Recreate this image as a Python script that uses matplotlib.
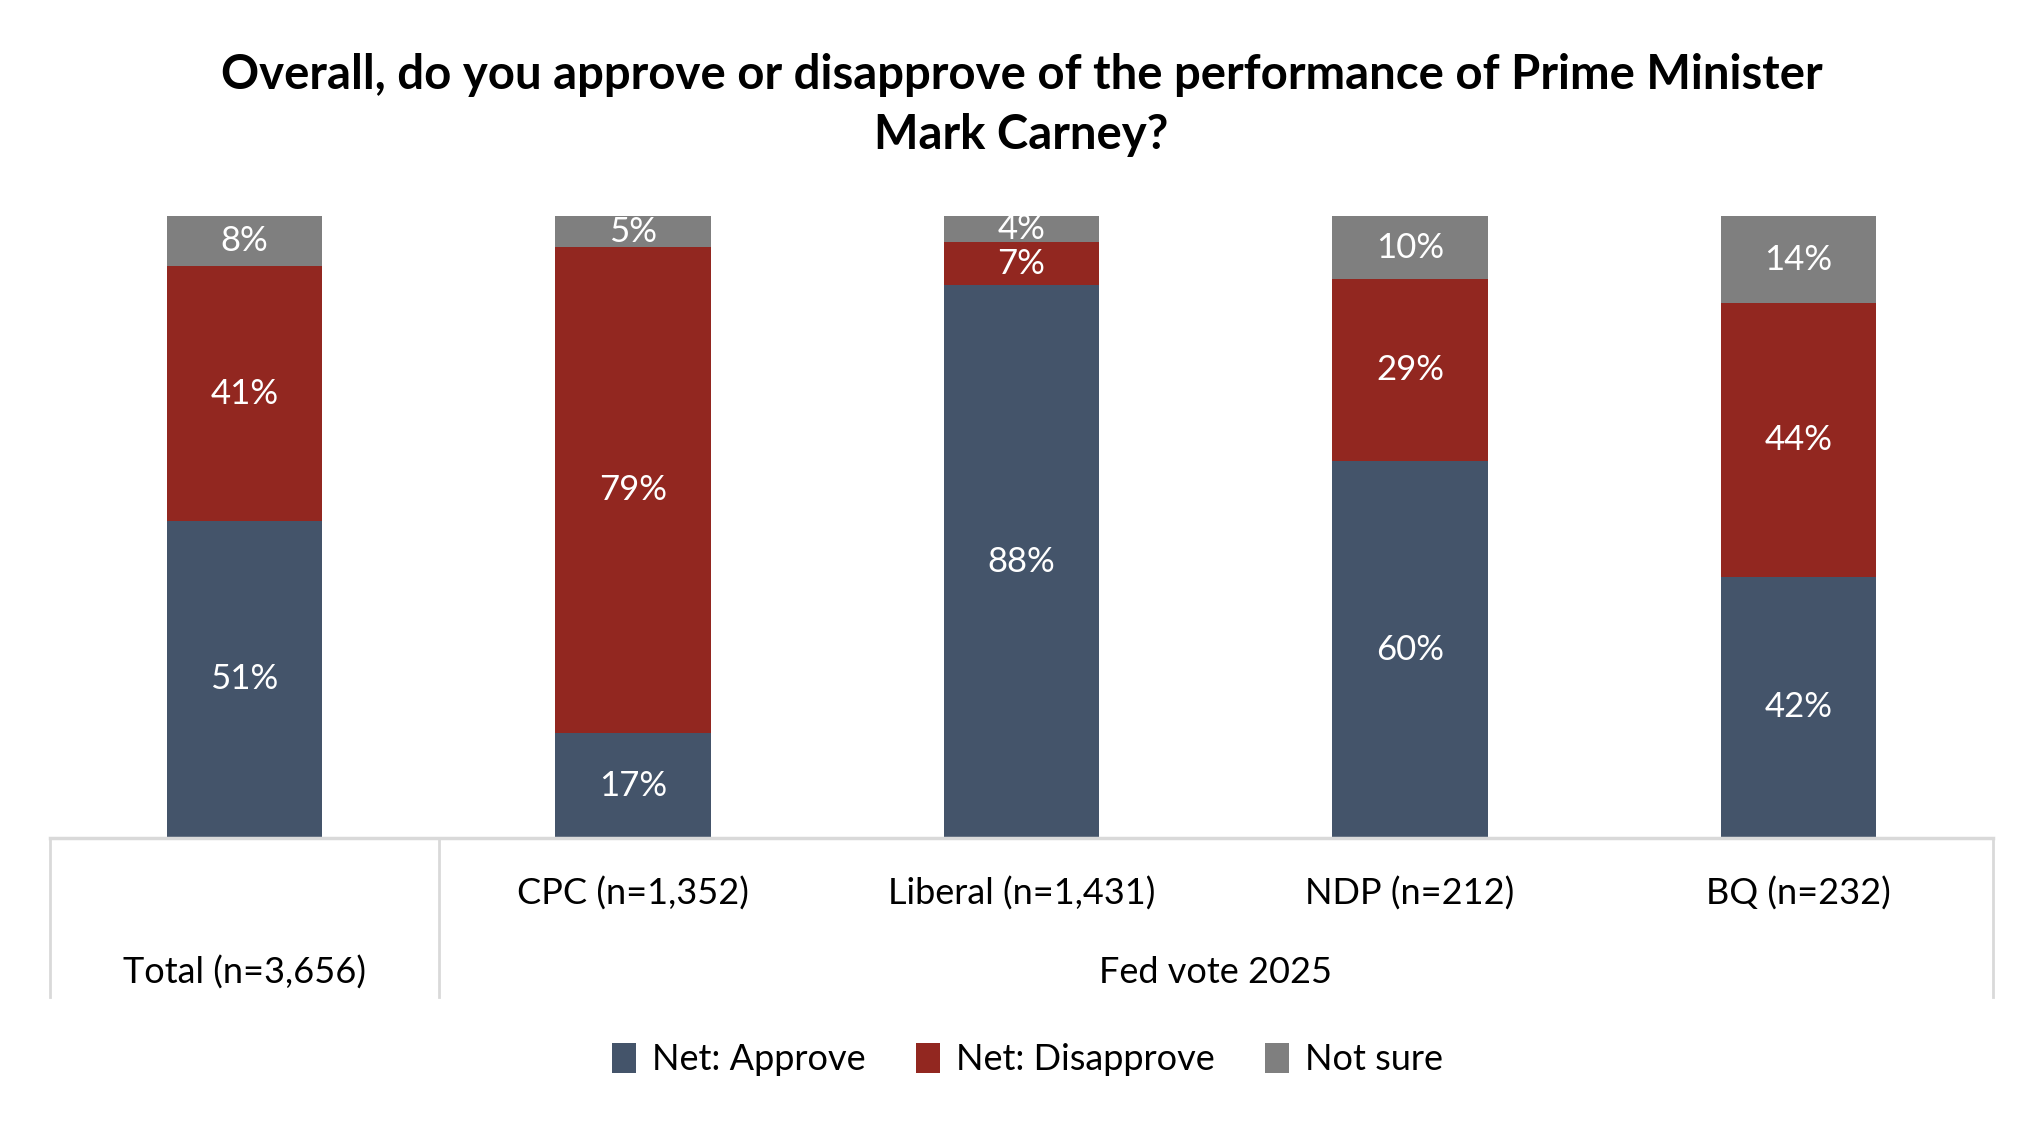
import numpy as np
import matplotlib.pyplot as plt
from matplotlib.lines import Line2D

plt.rcParams['font.family'] = ['Lato', 'DejaVu Sans']

# ------------------------------
# data
# ------------------------------
groups = ["Total (n=3,656)", "CPC (n=1,352)", "Liberal (n=1,431)", "NDP (n=212)", "BQ (n=232)"]
approve = [51, 17, 88, 60, 42]
disapprove = [41, 79, 7, 29, 44]
not_sure = [8, 5, 4, 10, 14]
series_names = ["Net: Approve", "Net: Disapprove", "Not sure"]
colors = ["#44546A", "#922720", "#7F7F7F"]
group_label = "Fed vote 2025"
title = "Overall, do you approve or disapprove of the performance of Prime Minister\nMark Carney?"

# 100% stacked like the excel chart
vals = np.array([approve, disapprove, not_sure], dtype=float)
shares = vals / vals.sum(axis=0) * 100

fig = plt.figure(figsize=(20.43, 11.26), dpi=100)
ax = fig.add_axes([0.02447, 0.2558, 0.951, 0.552])

x = np.arange(len(groups))
bottom = np.zeros(len(groups))
for i in range(3):
    ax.bar(x, shares[i], 0.4, bottom=bottom, color=colors[i], label=series_names[i])
    for j in range(len(groups)):
        ax.text(x[j], bottom[j] + shares[i][j] / 2, f"{int(vals[i][j])}%",
                ha="center", va="center", color="white", fontsize=25)
    bottom += shares[i]

ax.set_xlim(-0.5, 4.5)
ax.set_ylim(0, 100)
ax.axis("off")

# table-like category axis
line_col = "#D9D9D9"
ax.add_line(Line2D([-0.5, 4.5], [0, 0], color=line_col, lw=2.5, clip_on=False))
for xv in [-0.5, 0.5, 4.5]:
    ax.add_line(Line2D([xv, xv], [0, -25.6], color=line_col, lw=2, clip_on=False))

for j in range(1, len(groups)):
    ax.text(x[j], -9, groups[j], ha="center", va="center", fontsize=26)
ax.text(x[0], -21.7, groups[0], ha="center", va="center", fontsize=26)
ax.text(2.5, -21.7, group_label, ha="center", va="center", fontsize=26)

fig.text(0.5, 0.907, title, fontsize=34, fontweight="bold", ha="center", va="center",
         linespacing=1.45)

fig.legend(loc="center", bbox_to_anchor=(0.503, 0.059), ncol=3, frameon=False,
           fontsize=26, handlelength=0.65, handleheight=0.9, columnspacing=1.4,
           handletextpad=0.45)

fig.savefig("out.png", dpi=100)
